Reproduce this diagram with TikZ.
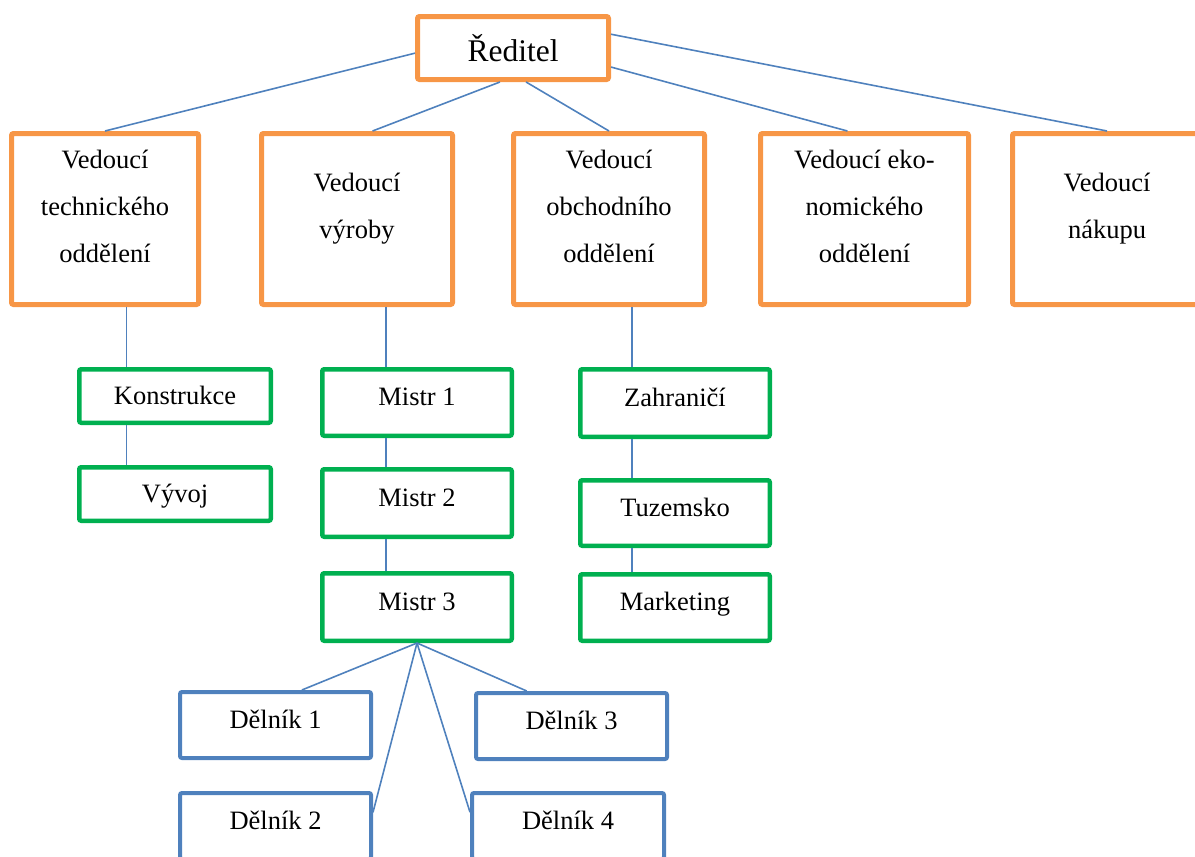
\documentclass[tikz,border=0pt]{standalone}
\usepackage{fontspec}
\setmainfont{Liberation Serif}
\usetikzlibrary{positioning}
\definecolor{vedorange}{RGB}{247,150,70}
\definecolor{mistrgreen}{RGB}{0,176,80}
\definecolor{delblue}{RGB}{79,129,189}

\begin{document}
\begin{tikzpicture}[
    every node/.style={font=\fontsize{13.25pt}{23.5pt}\selectfont},
    reditelbox/.style={rectangle, draw=vedorange, line width=2.5pt, minimum width=95.5pt, minimum height=31.5pt, align=center, rounded corners=1pt, font=\fontsize{15.75pt}{19pt}\selectfont},
    vedouci/.style={rectangle, draw=vedorange, line width=2.5pt, minimum width=95.5pt, minimum height=85.5pt, align=center, rounded corners=1pt},
    oddil/.style={rectangle, draw=mistrgreen, line width=2.25pt, minimum width=94.75pt, minimum height=33.75pt, text height=10pt, text depth=6.7pt, rounded corners=1pt},
    delnik/.style={rectangle, draw=delblue, line width=2pt, minimum width=95.5pt, minimum height=33pt, text height=10pt, text depth=6.7pt, rounded corners=1pt},
    spoj/.style={draw=delblue, line width=0.8pt}
]
\useasboundingbox (0,0) rectangle (597.5pt,-428.5pt);

% Reditel
\node[reditelbox] (reditel) at (256.5pt,-24pt) {Ředitel};

% Vedouci
\node[vedouci, minimum width=93.5pt] (techn) at (52.5pt,-109.5pt) {Vedoucí\\technického\\oddělení\\[-10.5pt]};
\node[vedouci, right=29pt of techn] (vyroba) {Vedoucí\\výroby\\[-10.5pt]};
\node[vedouci, right=28pt of vyroba] (obchod) {Vedoucí\\obchodního\\oddělení\\[-10.5pt]};
\node[vedouci, right=25.5pt of obchod, minimum width=104pt] (ekonom) {Vedoucí eko-\\nomického\\oddělení\\[-10.5pt]};
\node[vedouci, right=19.5pt of ekonom, minimum width=94.5pt] (nakup) {Vedoucí\\nákupu\\[-10.5pt]};

% Technicke oddeleni
\node[oddil, below=30pt of techn, xshift=35pt, minimum width=95.75pt, minimum height=26.75pt, text depth=1.2pt] (konstr) {Konstrukce};
\node[oddil, below=20pt of konstr, minimum width=95.75pt, minimum height=26.75pt, text depth=1.2pt] (vyvoj) {Vývoj};

% Vyroba
\node[oddil, below=30pt of vyroba, xshift=30pt, minimum height=33.25pt] (mistr1) {Mistr 1};
\node[oddil, below=14.5pt of mistr1] (mistr2) {Mistr 2};
\node[oddil, below=16pt of mistr2] (mistr3) {Mistr 3};

% Obchod
\node[oddil, below=30pt of obchod, xshift=33pt] (zahr) {Zahraničí};
\node[oddil, below=19.5pt of zahr, minimum height=32.75pt] (tuzem) {Tuzemsko};
\node[oddil, below=12pt of tuzem, minimum height=33.25pt] (market) {Marketing};

% Delnici
\node[delnik, below=23.5pt of mistr3, xshift=-70.75pt] (del1) {Dělník 1};
\node[delnik, below=24pt of mistr3, xshift=77.25pt] (del3) {Dělník 3};
\node[delnik, below=15.5pt of del1] (del2) {Dělník 2};
\node[delnik, below=15pt of del3, xshift=-1.75pt, minimum width=96pt] (del4) {Dělník 4};

% Spoje od reditele
\draw[spoj] (reditel.183) -- (techn.north);
\draw[spoj] (reditel.249) -- (vyroba.80);
\draw[spoj] (reditel.291) -- (obchod.north);
\draw[spoj] (reditel.349) -- (ekonom.101);
\draw[spoj] (reditel.8) -- (nakup.north);

% Svisle spoje
\coordinate (konstrlinka) at ([xshift=-24.25pt]konstr.north);
\coordinate (mistrlinka) at ([xshift=-15.5pt]mistr1.north);
\coordinate (zahrlinka) at ([xshift=-21.5pt]zahr.north);
\draw[spoj] (techn.south -| konstrlinka) -- (konstrlinka);
\draw[spoj] (konstr.south -| konstrlinka) -- (vyvoj.north -| konstrlinka);
\draw[spoj] (vyroba.south -| mistrlinka) -- (mistrlinka);
\draw[spoj] (mistr1.south -| mistrlinka) -- (mistr2.north -| mistrlinka);
\draw[spoj] (mistr2.south -| mistrlinka) -- (mistr3.north -| mistrlinka);
\draw[spoj] (obchod.south -| zahrlinka) -- (zahrlinka);
\draw[spoj] (zahr.south -| zahrlinka) -- (tuzem.north -| zahrlinka);
\draw[spoj] (tuzem.south -| zahrlinka) -- (market.north -| zahrlinka);

% Mistr 3 a delnici
\draw[spoj] (mistr3.south) -- (del1.53);
\draw[spoj] (mistr3.south) -- (del3.142);
\draw[spoj] (mistr3.south) -- (del2.8);
\draw[spoj] (mistr3.south) -- (del4.172);

\end{tikzpicture}
\end{document}
